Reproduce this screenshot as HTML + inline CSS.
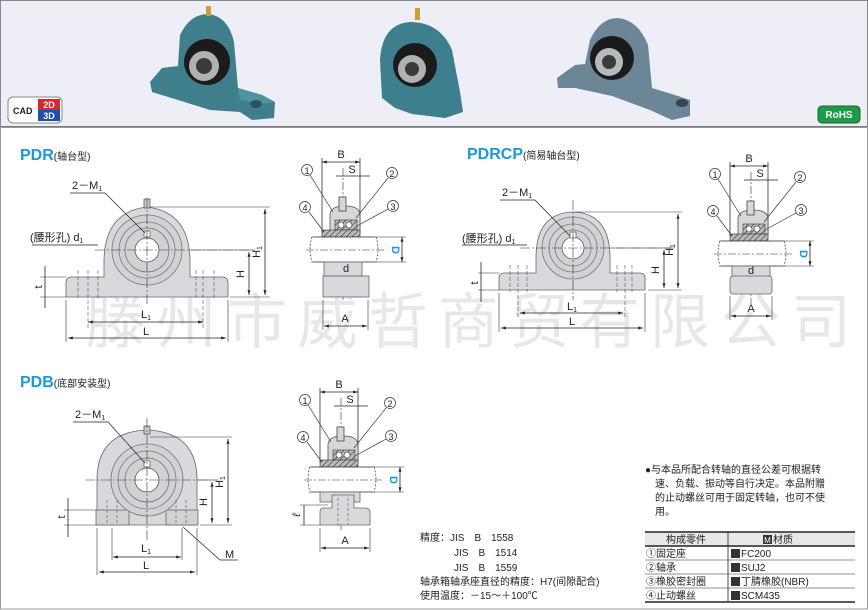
<!DOCTYPE html>
<html><head><meta charset="utf-8"><style>
html,body{margin:0;padding:0;background:#fff}
svg{display:block}
text{font-family:"Liberation Sans","Noto Sans CJK SC",sans-serif;fill:#222}
</style></head><body>
<svg width="868" height="610" viewBox="0 0 868 610" xmlns="http://www.w3.org/2000/svg">
<defs>
<pattern id="h" width="4" height="4" patternUnits="userSpaceOnUse" patternTransform="rotate(45)"><rect width="4" height="4" fill="#bbb"/><line x1="0" y1="0" x2="0" y2="4" stroke="#333" stroke-width="1.2"/></pattern>
<marker id="a" viewBox="0 0 8 8" refX="8" refY="4" markerWidth="6" markerHeight="6" orient="auto-start-reverse"><path d="M0,1.5L8,4L0,6.5z" fill="#222"/></marker>
<g id="sidetop">
 <line x1="322" y1="158" x2="322" y2="232" stroke="#333" stroke-width="0.8"/>
 <line x1="360" y1="158" x2="360" y2="232" stroke="#333" stroke-width="0.8"/>
 <line x1="322" y1="162" x2="360" y2="162" stroke="#222" stroke-width="0.8" marker-start="url(#a)" marker-end="url(#a)"/>
 <text x="341" y="158" font-size="11" text-anchor="middle">B</text>
 <line x1="336" y1="176" x2="370" y2="176" stroke="#222" stroke-width="0.8"/>
 <text x="352" y="173" font-size="11" text-anchor="middle">S</text>
 <line x1="343" y1="168" x2="343" y2="300" stroke="#333" stroke-width="0.6" stroke-dasharray="8,2,2,2"/>
 <path d="M330,233 L330,214 Q331,206 345,206 Q359,206 360,214 L360,233Z" fill="#d5d7da" stroke="#555" stroke-width="0.8"/>
 <rect x="339" y="197" width="7" height="14" fill="#d5d7da" stroke="#444" stroke-width="0.8"/>
 <rect x="335" y="220" width="22" height="10" fill="url(#h)" stroke="#333" stroke-width="0.6"/>
 <circle cx="341" cy="225" r="3" fill="#fff" stroke="#333" stroke-width="0.6"/><circle cx="349" cy="225" r="3" fill="#fff" stroke="#333" stroke-width="0.6"/>
 <rect x="322" y="230" width="38" height="7" fill="url(#h)" stroke="#333" stroke-width="0.6"/>
 <rect x="312" y="237" width="64" height="25" fill="#fff" stroke="#333" stroke-width="0.8"/>
 <line x1="312" y1="237" x2="312" y2="262" stroke="#fff" stroke-width="2"/><line x1="376" y1="237" x2="376" y2="262" stroke="#fff" stroke-width="2"/>
 <path d="M312,237 Q308,249 312,262 M376,237 Q380,249 376,262" fill="none" stroke="#333" stroke-width="0.7" stroke-dasharray="2,1.5"/>
 <line x1="306" y1="250" x2="385" y2="250" stroke="#333" stroke-width="0.6" stroke-dasharray="8,2,2,2"/>
 <circle cx="307" cy="170" r="5.5" fill="#fff" stroke="#333" stroke-width="0.7"/><text x="307" y="174" font-size="9" text-anchor="middle">1</text>
 <circle cx="392" cy="173" r="5.5" fill="#fff" stroke="#333" stroke-width="0.7"/><text x="392" y="177" font-size="9" text-anchor="middle">2</text>
 <circle cx="305" cy="207" r="5.5" fill="#fff" stroke="#333" stroke-width="0.7"/><text x="305" y="211" font-size="9" text-anchor="middle">4</text>
 <circle cx="393" cy="206" r="5.5" fill="#fff" stroke="#333" stroke-width="0.7"/><text x="393" y="210" font-size="9" text-anchor="middle">3</text>
 <path d="M310,175 L333,212 M388,178 L356,218 M309,212 L324,232 M388,209 L357,226" stroke="#333" stroke-width="0.7" fill="none"/>
 <line x1="376" y1="237" x2="406" y2="237" stroke="#333" stroke-width="0.6"/><line x1="376" y1="262" x2="406" y2="262" stroke="#333" stroke-width="0.6"/>
 <line x1="402" y1="237" x2="402" y2="262" stroke="#222" stroke-width="0.8" marker-start="url(#a)" marker-end="url(#a)"/>
 <text x="0" y="0" font-size="11" font-weight="bold" style="fill:#1a9ad6" transform="translate(392,250) rotate(90)" text-anchor="middle">D</text>
</g>
</defs>
<!-- header -->
<rect x="0.5" y="0.5" width="867" height="126" fill="#eeeef7" stroke="#888"/>
<line x1="0" y1="127" x2="868" y2="127" stroke="#333" stroke-width="1.5"/>
<rect x="0.5" y="127" width="867" height="482" fill="none" stroke="#999"/>
<!-- product images -->
<g>
 <!-- product 1 -->
 <path d="M150,82 L162,68 L178,66 L180,35 Q190,14 208,14 Q228,16 234,42 L238,88 L262,95 L275,102 L274,118 L252,120 L240,112 L210,110 L178,100 L152,92Z" fill="#3f7f8c"/>
 <path d="M238,88 L262,95 L275,102 L262,104 L240,100Z" fill="#4f93a0"/>
 <ellipse cx="256" cy="104" rx="6" ry="4" fill="#2a5560"/>
 <circle cx="207" cy="62" r="23" fill="#1b1b1b"/><circle cx="204" cy="66" r="15" fill="#aeb2b3"/><circle cx="204" cy="66" r="8" fill="#3a3a3a"/>
 <rect x="123" y="6" width="5" height="10" fill="#c9a038" transform="translate(83,0)"/>
 <!-- product 2 -->
 <path d="M382,98 L380,60 Q382,24 410,22 Q440,22 452,50 L460,92 L463,112 L445,118 L412,114 L395,108Z" fill="#3d7f8c"/>
 <circle cx="415" cy="65" r="22" fill="#1b1b1b"/><circle cx="412" cy="69" r="14" fill="#aeb2b3"/><circle cx="412" cy="69" r="7" fill="#3a3a3a"/>
 <rect x="415" y="8" width="5" height="12" fill="#c9a038"/>
 <!-- product 3 -->
 <path d="M557,78 L575,65 L585,64 L590,40 Q600,18 618,18 Q638,20 648,45 L652,88 L675,95 L690,100 L690,116 L672,120 L650,110 L612,96 L575,88 L558,88Z" fill="#6b8797"/>
 <ellipse cx="682" cy="103" rx="6" ry="4" fill="#33454f"/>
 <circle cx="612" cy="58" r="22" fill="#1b1b1b"/><circle cx="609" cy="62" r="14" fill="#b6babb"/><circle cx="609" cy="62" r="7" fill="#3a3a3a"/>
</g>
<rect x="8" y="97" width="54" height="26" rx="5" fill="#fff" stroke="#888"/>
<text x="13" y="114" font-size="9" font-weight="bold">CAD</text>
<rect x="38" y="99" width="22" height="11" fill="#e0242b"/><rect x="38" y="110" width="22" height="11" fill="#1f4fa8"/>
<text x="49" y="108" font-size="9" font-weight="bold" text-anchor="middle" style="fill:#fff">2D</text>
<text x="49" y="119" font-size="9" font-weight="bold" text-anchor="middle" style="fill:#fff">3D</text>
<rect x="818" y="106" width="42" height="17" rx="4" fill="#1e9a4a" stroke="#0d6a2f"/>
<text x="839" y="118" font-size="10" font-weight="bold" text-anchor="middle" style="fill:#fff">RoHS</text>

<!-- watermark -->
<text x="86" y="343" font-size="60" letter-spacing="10.5" style="fill:#e7e7e7">滕州市威哲商贸有限公司</text>

<!-- titles -->
<text x="20" y="160" font-size="16" font-weight="bold" style="fill:#1a9ad6">PDR<tspan font-size="10" font-weight="normal" style="fill:#222">(轴台型)</tspan></text>
<text x="467" y="159" font-size="16" font-weight="bold" style="fill:#1a9ad6">PDRCP<tspan font-size="10" font-weight="normal" style="fill:#222">(简易轴台型)</tspan></text>
<text x="20" y="387" font-size="16" font-weight="bold" style="fill:#1a9ad6">PDB<tspan font-size="10" font-weight="normal" style="fill:#222">(底部安装型)</tspan></text>

<g stroke-linecap="butt">
<!-- PDR front -->
<path d="M66,297 L66,283 Q66,277 72,277 L104,277 L104,262 Q104,212 147,207 Q190,212 190,262 L190,277 L222,277 Q228,277 228,283 L228,297 Z" fill="#d7d9dc" stroke="#666" stroke-width="0.8"/>
<circle cx="147" cy="250" r="35" fill="#d0d2d5" stroke="#777" stroke-width="0.8"/>
<circle cx="147" cy="250" r="28" fill="none" stroke="#777" stroke-width="0.8"/>
<circle cx="147" cy="250" r="22" fill="none" stroke="#777" stroke-width="0.8"/>
<circle cx="147" cy="250" r="12" fill="#fff" stroke="#555" stroke-width="0.8"/>
<rect x="144" y="231" width="6" height="6" fill="#fff" stroke="#444" stroke-width="0.6"/>
<rect x="144" y="199" width="6" height="9" fill="#ccc" stroke="#444" stroke-width="0.7"/>
<line x1="95" y1="250" x2="255" y2="250" stroke="#333" stroke-width="0.6" stroke-dasharray="10,2,2,2"/>
<line x1="147" y1="198" x2="147" y2="305" stroke="#333" stroke-width="0.6" stroke-dasharray="10,2,2,2"/>
<path d="M78,270 V300 M98,270 V300 M88,270 V330 M203,270 V330 M196,270 V300 M214,270 V300" stroke="#555" stroke-width="0.6" stroke-dasharray="4,2"/>
<path d="M66,300 V342 M228,300 V342" stroke="#333" stroke-width="0.6"/>
<line x1="68" y1="338" x2="226" y2="338" stroke="#222" stroke-width="0.8" marker-start="url(#a)" marker-end="url(#a)"/>
<text x="146" y="335" font-size="11" text-anchor="middle">L</text>
<line x1="88" y1="322" x2="203" y2="322" stroke="#222" stroke-width="0.8" marker-start="url(#a)" marker-end="url(#a)"/>
<text x="146" y="318" font-size="11" text-anchor="middle">L<tspan font-size="7" dy="2">1</tspan></text>
<path d="M150,207 H270 M230,297 H270 M190,250 H255" stroke="#333" stroke-width="0.6"/>
<line x1="265" y1="209" x2="265" y2="295" stroke="#222" stroke-width="0.8" marker-start="url(#a)" marker-end="url(#a)"/>
<text x="0" y="0" font-size="11" transform="translate(260,252) rotate(-90)" text-anchor="middle">H<tspan font-size="7" dy="2">1</tspan></text>
<line x1="249" y1="252" x2="249" y2="295" stroke="#222" stroke-width="0.8" marker-start="url(#a)" marker-end="url(#a)"/>
<text x="0" y="0" font-size="11" transform="translate(244,274) rotate(-90)" text-anchor="middle">H</text>
<path d="M40,277 H66 M40,297 H66" stroke="#333" stroke-width="0.6"/>
<line x1="45" y1="266" x2="45" y2="308" stroke="#222" stroke-width="0.8"/>
<text x="0" y="0" font-size="11" transform="translate(42,287) rotate(-90)" text-anchor="middle">t</text>
<line x1="32" y1="245" x2="98" y2="245" stroke="#222" stroke-width="0.7"/>
<text x="30" y="241" font-size="11">(腰形孔) d<tspan font-size="7" dy="2">1</tspan></text>
<text x="72" y="189" font-size="11">2－M<tspan font-size="7" dy="2">1</tspan></text>
<path d="M70,193 H105 L145,233" stroke="#222" stroke-width="0.7" fill="none"/>

<!-- PDR side -->
<use href="#sidetop"/>
<rect x="324" y="262" width="38" height="14" fill="#d7d9dc" stroke="#666" stroke-width="0.8"/>
<rect x="323" y="276" width="46" height="21" fill="#d7d9dc" stroke="#666" stroke-width="0.8"/>
<text x="346" y="272" font-size="11" text-anchor="middle">d</text>
<path d="M323,300 V330 M368,300 V330" stroke="#333" stroke-width="0.6"/>
<line x1="324" y1="326" x2="367" y2="326" stroke="#222" stroke-width="0.8" marker-start="url(#a)" marker-end="url(#a)"/>
<text x="345" y="322" font-size="11" text-anchor="middle">A</text>

<!-- PDRCP front -->
<path d="M499,290 L499,278 Q499,273 505,273 L536,273 L536,258 Q536,213 573,212 Q610,213 610,258 L610,273 L640,273 Q645,273 645,278 L645,290 Z" fill="#d7d9dc" stroke="#666" stroke-width="0.8"/>
<circle cx="573" cy="248" r="31" fill="#d0d2d5" stroke="#777" stroke-width="0.8"/>
<circle cx="573" cy="248" r="24" fill="none" stroke="#777" stroke-width="0.8"/>
<circle cx="573" cy="248" r="18" fill="none" stroke="#777" stroke-width="0.8"/>
<circle cx="573" cy="248" r="11" fill="#fff" stroke="#555" stroke-width="0.8"/>
<rect x="570" y="232" width="6" height="6" fill="#fff" stroke="#444" stroke-width="0.6"/>
<line x1="520" y1="248" x2="676" y2="248" stroke="#333" stroke-width="0.6" stroke-dasharray="10,2,2,2"/>
<line x1="573" y1="200" x2="573" y2="300" stroke="#333" stroke-width="0.6" stroke-dasharray="10,2,2,2"/>
<path d="M510,265 V292 M527,265 V292 M518,265 V318 M625,265 V318 M617,265 V292 M632,265 V292" stroke="#555" stroke-width="0.6" stroke-dasharray="4,2"/>
<path d="M499,293 V332 M645,293 V332" stroke="#333" stroke-width="0.6"/>
<line x1="501" y1="328" x2="643" y2="328" stroke="#222" stroke-width="0.8" marker-start="url(#a)" marker-end="url(#a)"/>
<text x="572" y="325" font-size="11" text-anchor="middle">L</text>
<line x1="520" y1="313" x2="623" y2="313" stroke="#222" stroke-width="0.8" marker-start="url(#a)" marker-end="url(#a)"/>
<text x="572" y="310" font-size="11" text-anchor="middle">L<tspan font-size="7" dy="2">1</tspan></text>
<path d="M575,212 H682 M648,290 H682 M610,248 H670" stroke="#333" stroke-width="0.6"/>
<line x1="678" y1="214" x2="678" y2="288" stroke="#222" stroke-width="0.8" marker-start="url(#a)" marker-end="url(#a)"/>
<text x="0" y="0" font-size="11" transform="translate(673,250) rotate(-90)" text-anchor="middle">H<tspan font-size="7" dy="2">1</tspan></text>
<line x1="664" y1="250" x2="664" y2="288" stroke="#222" stroke-width="0.8" marker-start="url(#a)" marker-end="url(#a)"/>
<text x="0" y="0" font-size="11" transform="translate(659,270) rotate(-90)" text-anchor="middle">H</text>
<path d="M478,273 H499 M478,290 H499" stroke="#333" stroke-width="0.6"/>
<line x1="481" y1="262" x2="481" y2="302" stroke="#222" stroke-width="0.8"/>
<text x="0" y="0" font-size="11" transform="translate(478,283) rotate(-90)" text-anchor="middle">t</text>
<line x1="462" y1="245" x2="527" y2="245" stroke="#222" stroke-width="0.7"/>
<text x="462" y="242" font-size="11">(腰形孔) d<tspan font-size="7" dy="2">1</tspan></text>
<text x="502" y="196" font-size="11">2－M<tspan font-size="7" dy="2">1</tspan></text>
<path d="M500,200 H535 L570,236" stroke="#222" stroke-width="0.7" fill="none"/>

<!-- PDRCP side -->
<g transform="translate(408,4)"><use href="#sidetop"/>
<rect x="324" y="262" width="38" height="12" fill="#d7d9dc" stroke="#666" stroke-width="0.8"/>
<rect x="322" y="272" width="42" height="18" rx="3" fill="#d7d9dc" stroke="#666" stroke-width="0.8"/>
<text x="343" y="270" font-size="11" text-anchor="middle">d</text>
<path d="M322,292 V316 M364,292 V316" stroke="#333" stroke-width="0.6"/>
<line x1="323" y1="312" x2="363" y2="312" stroke="#222" stroke-width="0.8" marker-start="url(#a)" marker-end="url(#a)"/>
<text x="343" y="308" font-size="11" text-anchor="middle">A</text></g>

<!-- PDB front -->
<path d="M97,525 L97,480 Q97,432 147,430 Q197,432 197,480 L197,525 Z" fill="#d7d9dc" stroke="#666" stroke-width="0.8"/>
<rect x="96" y="510" width="33" height="15" fill="#d0d2d5" stroke="#666" stroke-width="0.8"/>
<rect x="166" y="510" width="32" height="15" fill="#d0d2d5" stroke="#666" stroke-width="0.8"/>
<circle cx="147" cy="480" r="36" fill="#d0d2d5" stroke="#777" stroke-width="0.8"/>
<circle cx="147" cy="480" r="29" fill="none" stroke="#777" stroke-width="0.8"/>
<circle cx="147" cy="480" r="22" fill="none" stroke="#777" stroke-width="0.8"/>
<circle cx="147" cy="480" r="12" fill="#fff" stroke="#555" stroke-width="0.8"/>
<rect x="144" y="461" width="6" height="6" fill="#fff" stroke="#444" stroke-width="0.6"/>
<rect x="144" y="426" width="6" height="8" fill="#ccc" stroke="#444" stroke-width="0.7"/>
<path d="M107,500 V525 M117,500 V525 M176,500 V525 M186,500 V525" stroke="#555" stroke-width="0.6" stroke-dasharray="3,2"/>
<line x1="85" y1="480" x2="215" y2="480" stroke="#333" stroke-width="0.6" stroke-dasharray="10,2,2,2"/>
<line x1="147" y1="418" x2="147" y2="540" stroke="#333" stroke-width="0.6" stroke-dasharray="10,2,2,2"/>
<path d="M97,528 V575 M197,528 V575 M112,528 V560 M182,528 V560" stroke="#333" stroke-width="0.6"/>
<line x1="99" y1="572" x2="195" y2="572" stroke="#222" stroke-width="0.8" marker-start="url(#a)" marker-end="url(#a)"/>
<text x="146" y="569" font-size="11" text-anchor="middle">L</text>
<line x1="113" y1="557" x2="181" y2="557" stroke="#222" stroke-width="0.8" marker-start="url(#a)" marker-end="url(#a)"/>
<text x="146" y="552" font-size="11" text-anchor="middle">L<tspan font-size="7" dy="2">1</tspan></text>
<path d="M150,437 H232 M200,525 H232 M197,480 H218" stroke="#333" stroke-width="0.6"/>
<line x1="228" y1="439" x2="228" y2="523" stroke="#222" stroke-width="0.8" marker-start="url(#a)" marker-end="url(#a)"/>
<text x="0" y="0" font-size="11" transform="translate(223,482) rotate(-90)" text-anchor="middle">H<tspan font-size="7" dy="2">1</tspan></text>
<line x1="212" y1="482" x2="212" y2="523" stroke="#222" stroke-width="0.8" marker-start="url(#a)" marker-end="url(#a)"/>
<text x="0" y="0" font-size="11" transform="translate(207,502) rotate(-90)" text-anchor="middle">H</text>
<path d="M64,510 H96 M64,525 H96" stroke="#333" stroke-width="0.6"/>
<line x1="68" y1="498" x2="68" y2="537" stroke="#222" stroke-width="0.8"/>
<text x="0" y="0" font-size="11" transform="translate(65,517) rotate(-90)" text-anchor="middle">t</text>
<text x="75" y="418" font-size="11">2－M<tspan font-size="7" dy="2">1</tspan></text>
<path d="M73,422 H108 L145,463" stroke="#222" stroke-width="0.7" fill="none"/>
<path d="M183,527 L220,560 H238" stroke="#222" stroke-width="0.7" fill="none"/>
<text x="225" y="558" font-size="11">M</text>

<!-- PDB side -->
<g transform="translate(-2,230)"><use href="#sidetop"/>
<rect x="322" y="262" width="40" height="10" fill="#d7d9dc" stroke="#666" stroke-width="0.8"/>
<path d="M322,295 L322,282 Q322,278 326,278 L334,278 L334,265 L356,265 L356,278 L366,278 Q372,278 372,282 L372,295 Z" fill="#d7d9dc" stroke="#666" stroke-width="0.8"/>
<path d="M340,268 V295 M350,268 V295" stroke="#555" stroke-width="0.6" stroke-dasharray="3,2"/>
<path d="M302,275 H330 M302,295 H322" stroke="#333" stroke-width="0.6"/>
<line x1="306" y1="275" x2="306" y2="295" stroke="#222" stroke-width="0.8"/>
<text x="0" y="0" font-size="11" font-style="italic" transform="translate(302,285) rotate(-90)" text-anchor="middle">ℓ</text>
<path d="M322,298 V322 M372,298 V322" stroke="#333" stroke-width="0.6"/>
<line x1="323" y1="318" x2="371" y2="318" stroke="#222" stroke-width="0.8" marker-start="url(#a)" marker-end="url(#a)"/>
<text x="347" y="314" font-size="11" text-anchor="middle">A</text></g>
</g>

<!-- notes -->
<g font-size="10">
<text x="420" y="541">精度：JIS　B　1558</text>
<text x="454" y="556">JIS　B　1514</text>
<text x="454" y="571">JIS　B　1559</text>
<text x="420" y="585">轴承箱轴承座直径的精度：H7(间隙配合)</text>
<text x="420" y="599">使用温度：－15～＋100℃</text>
<text x="645" y="473">●与本品所配合转轴的直径公差可根据转</text>
<text x="655" y="487">速、负载、振动等自行决定。本品附赠</text>
<text x="655" y="501">的止动螺丝可用于固定转轴，也可不使</text>
<text x="655" y="515">用。</text>
</g>
<rect x="645" y="532" width="210" height="14" fill="#e8e8e8"/>
<path d="M645,532 H855 M645,546 H855 M645,602 H855" stroke="#222" stroke-width="1.5"/>
<path d="M645,560 H855 M645,574 H855 M645,588 H855" stroke="#222" stroke-width="0.6"/>
<line x1="728" y1="532" x2="728" y2="602" stroke="#222" stroke-width="0.8"/>
<g font-size="10">
<text x="686" y="543" text-anchor="middle">构成零件</text>
<rect x="763" y="535" width="9" height="9" fill="#333"/><text x="767.5" y="543" font-size="8" text-anchor="middle" style="fill:#fff">M</text>
<text x="773" y="543">材质</text>
<text x="646" y="557">①固定座</text><text x="646" y="571">②轴承</text><text x="646" y="585">③橡胶密封圈</text><text x="646" y="599">④止动螺丝</text>
<g><rect x="731" y="549" width="9" height="9" fill="#333"/><rect x="731" y="563" width="9" height="9" fill="#333"/><rect x="731" y="577" width="9" height="9" fill="#333"/><rect x="731" y="591" width="9" height="9" fill="#333"/></g>
<text x="741" y="557">FC200</text><text x="741" y="571">SUJ2</text><text x="741" y="585">丁腈橡胶(NBR)</text><text x="741" y="599">SCM435</text>
</g>
</svg>
</body></html>
